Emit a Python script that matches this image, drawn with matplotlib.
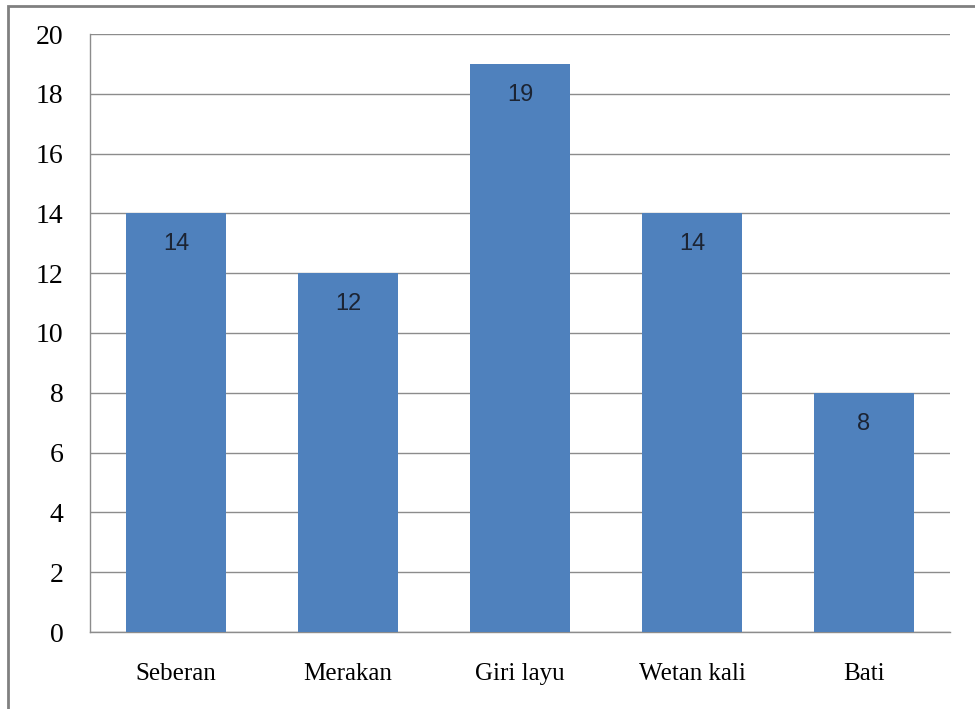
import matplotlib
matplotlib.use("Agg")
import matplotlib.pyplot as plt
from matplotlib.patches import Rectangle

categories = ["Seberan", "Merakan", "Giri layu", "Wetan kali", "Bati"]
values = [14, 12, 19, 14, 8]
yticks = [0, 2, 4, 6, 8, 10, 12, 14, 16, 18, 20]

bar_color = "#4F81BD"
grid_color = "#8C8C8C"

fig = plt.figure(figsize=(9.75, 7.09), dpi=100)
ax = fig.add_axes([90 / 975, 1 - 632 / 709, 860 / 975, 598 / 709])

x = list(range(len(categories)))
ax.bar(x, values, width=0.58, color=bar_color, zorder=3)

# value labels just inside the top of each bar
for xi, v in zip(x, values):
    ax.annotate(str(v), xy=(xi, v), xytext=(0, -31), textcoords="offset pixels",
                ha="center", va="center", fontsize=17, family="Liberation Sans",
                color="#1c2433", zorder=4)

ax.set_xlim(-0.5, len(categories) - 0.5)
ax.set_ylim(0, 20)
ax.set_yticks(yticks)
ax.set_yticklabels([str(t) for t in yticks], family="Liberation Serif", fontsize=20)
ax.set_xticks(x)
ax.set_xticklabels(categories, family="Liberation Serif", fontsize=18)
ax.tick_params(axis="both", length=0)
ax.tick_params(axis="y", pad=19)
ax.tick_params(axis="x", pad=22)

ax.yaxis.grid(True, color=grid_color, linewidth=1.0, zorder=0)
for side in ("top", "right"):
    ax.spines[side].set_visible(False)
for side in ("left", "bottom"):
    ax.spines[side].set_color(grid_color)
    ax.spines[side].set_linewidth(1.0)

# outer chart frame
fig.patches.append(Rectangle((8 / 975, -0.1), 1.2, 1.1 - 6 / 709,
                             transform=fig.transFigure, fill=False,
                             edgecolor="#808080", linewidth=2.0))

fig.savefig("out.png", dpi=100)
